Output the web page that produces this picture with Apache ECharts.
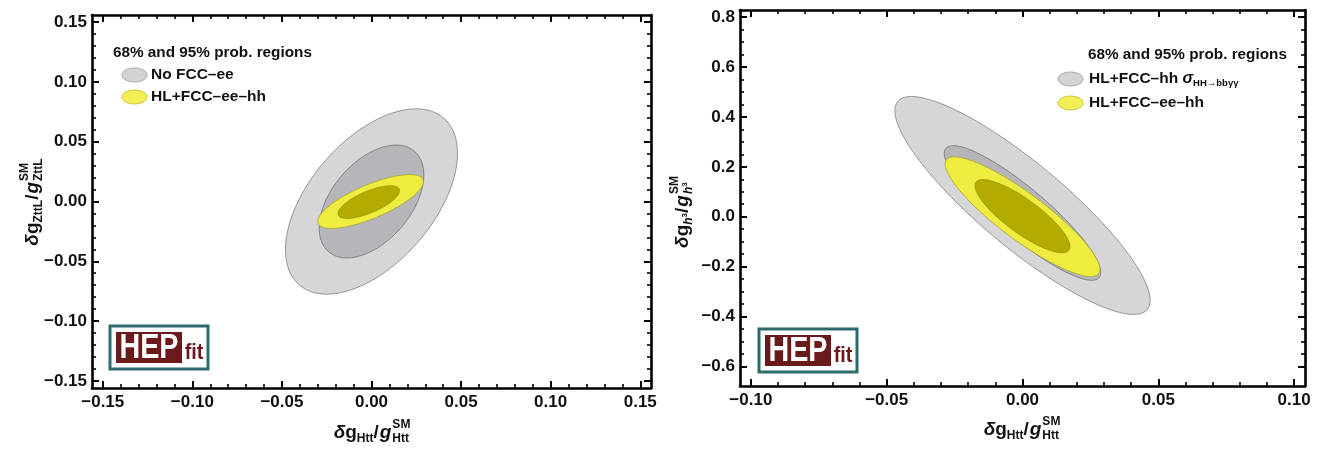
<!DOCTYPE html>
<html>
<head>
<meta charset="utf-8">
<script src="https://cdn.jsdelivr.net/npm/echarts@6/dist/echarts.min.js"></script>
<style>
html,body{margin:0;padding:0;background:#fff;}
#main{width:1317px;height:451px;}
</style>
</head>
<body>
<div id="main"></div>
<script>
// ---------------- DATA ----------------
// Left panel: deltag_Htt vs deltag_ZttL
const leftRegionNames = ['No FCC–ee 95%', 'No FCC–ee 68%', 'HL+FCC–ee–hh 95%', 'HL+FCC–ee–hh 68%'];
const leftCenterX = [0.000, 0.000, -0.0005, -0.0015];
const leftCenterY = [0.000, 0.000, 0.000, -0.0005];
const leftHalfWidthX = [0.0480, 0.0292, 0.0295, 0.0172];
const leftHalfWidthY = [0.0775, 0.0472, 0.0225, 0.0137];
const leftCorrelation = [0.52, 0.47, 0.74, 0.70];

// Right panel: deltag_Htt vs deltag_h3
const rightRegionNames = ['HL+FCC–hh σ 95%', 'HL+FCC–hh σ 68%', 'HL+FCC–ee–hh 95%', 'HL+FCC–ee–hh 68%'];
const rightCenterX = [0.000, 0.000, 0.000, 0.000];
const rightCenterY = [0.045, 0.015, 0.000, 0.002];
const rightHalfWidthX = [0.0470, 0.0288, 0.0285, 0.0175];
const rightHalfWidthY = [0.437, 0.270, 0.240, 0.147];
const rightCorrelation = [-0.87, -0.885, -0.88, -0.83];

// Tick labels
const leftXTicks = [-0.15, -0.10, -0.05, 0.00, 0.05, 0.10, 0.15];
const leftYTicks = [-0.15, -0.10, -0.05, 0.00, 0.05, 0.10, 0.15];
const rightXTicks = [-0.10, -0.05, 0.00, 0.05, 0.10];
const rightYTicks = [-0.6, -0.4, -0.2, 0.0, 0.2, 0.4, 0.6, 0.8];

// ---------------- STYLE ----------------
const FONT = '"Liberation Sans", Arial, Helvetica, sans-serif';
const regionFill = ['#d6d6d8', '#b6b6ba', '#eeec3e', '#b2ab00'];
const regionStroke = ['#8a8a8a', '#7a7a7a', '#a8a230', '#8d8800'];
const regionLine = [0.9, 0.9, 0.8, 0.6];

function minorsBetween(majors, n) {
  const out = [];
  for (let i = 0; i < majors.length - 1; i++) {
    const a = majors[i], b = majors[i + 1];
    for (let k = 1; k < n; k++) out.push(+(a + (b - a) * k / n).toFixed(6));
  }
  return out;
}
function fmt(dec) {
  return v => {
    const s = Math.abs(v).toFixed(dec);
    return (v < -1e-9 ? '\u2212' : '') + s;
  };
}

function axisSet(dim, grid, min, max, majors, minors, dec) {
  const line = { show: true, onZero: false, lineStyle: { color: '#000', width: 2.6 } };
  const noLine = { show: false, onZero: false };
  const base = { type: 'value', gridIndex: grid, min, max, splitLine: { show: false }, silent: true };
  const posA = dim === 'x' ? 'bottom' : 'left';
  const posB = dim === 'x' ? 'top' : 'right';
  return [
    Object.assign({}, base, {
      position: posA, axisLine: line,
      axisTick: { show: true, inside: true, length: 7, customValues: majors, lineStyle: { color: '#000', width: 2 } },
      axisLabel: { show: true, customValues: majors, formatter: fmt(dec), margin: dim === 'x' ? 6 : 5,
        fontSize: 17, fontWeight: 'bold', fontFamily: FONT, color: '#111' }
    }),
    Object.assign({}, base, {
      position: posA, axisLine: noLine,
      axisTick: { show: true, inside: true, length: 4, customValues: minors, lineStyle: { color: '#000', width: 1.6 } },
      axisLabel: { show: false }
    }),
    Object.assign({}, base, {
      position: posB, axisLine: line,
      axisTick: { show: true, inside: true, length: 7, customValues: majors, lineStyle: { color: '#000', width: 2 } },
      axisLabel: { show: false }
    }),
    Object.assign({}, base, {
      position: posB, axisLine: noLine,
      axisTick: { show: true, inside: true, length: 4, customValues: minors, lineStyle: { color: '#000', width: 1.6 } },
      axisLabel: { show: false }
    })
  ];
}

function ellipseSeries(name, xIdx, yIdx, cxs, cys, hx, hy, rho) {
  const data = cxs.map((c, i) => [c, cys[i], hx[i], hy[i], rho[i]]);
  return {
    type: 'custom', name, xAxisIndex: xIdx, yAxisIndex: yIdx, silent: true, clip: true,
    data,
    renderItem: (params, api) => {
      const cx = api.value(0), cy = api.value(1), ax = api.value(2), ay = api.value(3), r = api.value(4);
      const s = Math.sqrt(1 - r * r);
      const pts = [];
      const N = 160;
      for (let k = 0; k < N; k++) {
        const t = 2 * Math.PI * k / N;
        const x = cx + ax * Math.cos(t);
        const y = cy + ay * (r * Math.cos(t) + s * Math.sin(t));
        pts.push(api.coord([x, y]));
      }
      const i = params.dataIndex;
      return { type: 'polygon', shape: { points: pts },
        style: { fill: regionFill[i], stroke: regionStroke[i], lineWidth: regionLine[i] } };
    }
  };
}

// --------- math-like labels built from text pieces ---------
const cvs = document.createElement('canvas').getContext('2d');
function tw(p) {
  cvs.font = (p.i ? 'italic ' : '') + 'bold ' + p.s + 'px ' + FONT;
  return cvs.measureText(p.t).width;
}
function layoutRun(parts, x0, children) {
  let x = x0;
  parts.forEach(p => {
    if (p.stack) {
      let wmax = 0;
      p.stack.forEach(row => {
        const w = layoutRun(row.parts, x, children) - x;
        wmax = Math.max(wmax, w);
      });
      x += wmax;
    } else {
      children.push({ type: 'text', x: x, y: p.dy || 0,
        style: { text: p.t, fontSize: p.s, fontWeight: 'bold', fontStyle: p.i ? 'italic' : 'normal',
          fontFamily: FONT, fill: p.c || '#111', verticalAlign: 'middle', align: 'left' } });
      x += tw(p) + (p.gap || 0);
    }
  });
  return x;
}
function mathLabel(parts, cx, cy, rotation) {
  const children = [];
  const w = layoutRun(parts, 0, children);
  children.forEach(c => { c.x -= w / 2; });
  return { type: 'group', x: cx, y: cy, rotation: rotation || 0, children, silent: true };
}
function shiftDy(parts, dy) { return parts.map(p => Object.assign({}, p, { dy: (p.dy || 0) + dy })); }

const subHtt = [{ t: 'Htt', s: 12 }];
const subZ = [{ t: 'ZttL', s: 12 }];
const subH3 = [{ t: 'h', s: 12, i: true }, { t: '3', s: 8, dy: -4 }];
function coupling(sub) {
  return [
    { t: 'δ', s: 19, i: true }, { t: 'g', s: 19 },
    ...shiftDy(sub, 6),
    { t: '/', s: 19, gap: 1 }, { t: 'g', s: 19, i: true, gap: 1 },
    { stack: [{ parts: shiftDy(sub, 6) }, { parts: [{ t: 'SM', s: 12, dy: -8 }] }] }
  ];
}

function legend(titleX, iconCx, textX, y, step, items) {
  const els = [];
  els.push({ type: 'text', x: titleX, y: y, silent: true,
    style: { text: '68% and 95% prob. regions', fontSize: 15.3, fontWeight: 'bold', fontFamily: FONT, fill: '#111', verticalAlign: 'middle' } });
  items.forEach((it, k) => {
    const yy = y + step * (k + 1) - (step < 23 ? 0 : 0);
    els.push({ type: 'ellipse', silent: true, shape: { cx: iconCx, cy: yy, rx: 12.5, ry: 7 },
      style: { fill: it.fill, stroke: it.stroke, lineWidth: 1 } });
    els.push(mathLabelLeft(it.parts, textX, yy));
  });
  return els;
}
function mathLabelLeft(parts, x, y) {
  const children = [];
  layoutRun(parts, 0, children);
  return { type: 'group', x, y, children, silent: true };
}

function logo(x, y) {
  return { type: 'group', x, y, silent: true, children: [
    { type: 'rect', shape: { x: 0, y: 0, width: 98, height: 43 }, style: { fill: '#fff', stroke: '#2f6b6b', lineWidth: 3 } },
    { type: 'rect', shape: { x: 6, y: 6, width: 66, height: 31 }, style: { fill: '#6b1a1c' } },
    { type: 'text', x: 39, y: 22.5, scaleX: 0.82, style: { text: 'HEP', fontSize: 35, fontWeight: 'bold', fontFamily: FONT, fill: '#fff', align: 'center', verticalAlign: 'middle' } },
    { type: 'text', x: 84, y: 27, scaleX: 0.9, style: { text: 'fit', fontSize: 22, fontWeight: 'bold', fontFamily: FONT, fill: '#6b1a1c', align: 'center', verticalAlign: 'middle' } }
  ] };
}

const leftAxX = axisSet('x', 0, -0.156, 0.156, leftXTicks, minorsBetween(leftXTicks, 5), 2);
const leftAxY = axisSet('y', 0, -0.156, 0.156, leftYTicks, minorsBetween(leftYTicks, 5), 2);
const rightAxX = axisSet('x', 1, -0.104, 0.104, rightXTicks, minorsBetween(rightXTicks, 5), 2);
const rightAxY = axisSet('y', 1, -0.679, 0.829, rightYTicks, minorsBetween(rightYTicks, 4), 1);

const option = {
  backgroundColor: '#fff',
  animation: false,
  grid: [
    { left: 92, right: 666, top: 15, bottom: 63, containLabel: false },
    { left: 740, right: 12, top: 10, bottom: 65, containLabel: false }
  ],
  xAxis: [...leftAxX, ...rightAxX],
  yAxis: [...leftAxY, ...rightAxY],
  series: [
    ellipseSeries('left', 0, 0, leftCenterX, leftCenterY, leftHalfWidthX, leftHalfWidthY, leftCorrelation),
    ellipseSeries('right', 4, 4, rightCenterX, rightCenterY, rightHalfWidthX, rightHalfWidthY, rightCorrelation)
  ],
  graphic: [
    ...legend(113, 134.5, 151, 53, 22, [
      { fill: '#d3d3d5', stroke: '#a9a9a9', parts: [{ t: 'No FCC–ee', s: 15.5 }] },
      { fill: '#f2f055', stroke: '#c9c640', parts: [{ t: 'HL+FCC–ee–hh', s: 15.5 }] }
    ]),
    ...legend(1088, 1070.5, 1089, 55, 24, [
      { fill: '#d3d3d5', stroke: '#a9a9a9', parts: [{ t: 'HL+FCC–hh ', s: 15.5 }, { t: 'σ', s: 16, i: true }, { t: 'HH→bbγγ', s: 9.5, dy: 4 }] },
      { fill: '#f2f055', stroke: '#c9c640', parts: [{ t: 'HL+FCC–ee–hh', s: 15.5 }] }
    ]),
    logo(110, 326),
    logo(759, 329),
    mathLabel(coupling(subHtt), 372, 433),
    mathLabel(coupling(subZ), 33, 202, Math.PI / 2),
    mathLabel(coupling(subHtt), 1022, 430),
    mathLabel(coupling(subH3), 683, 212, Math.PI / 2)
  ]
};

const chart = echarts.init(document.getElementById('main'), null, { renderer: 'canvas' });
chart.setOption(option);
</script>
</body>
</html>
